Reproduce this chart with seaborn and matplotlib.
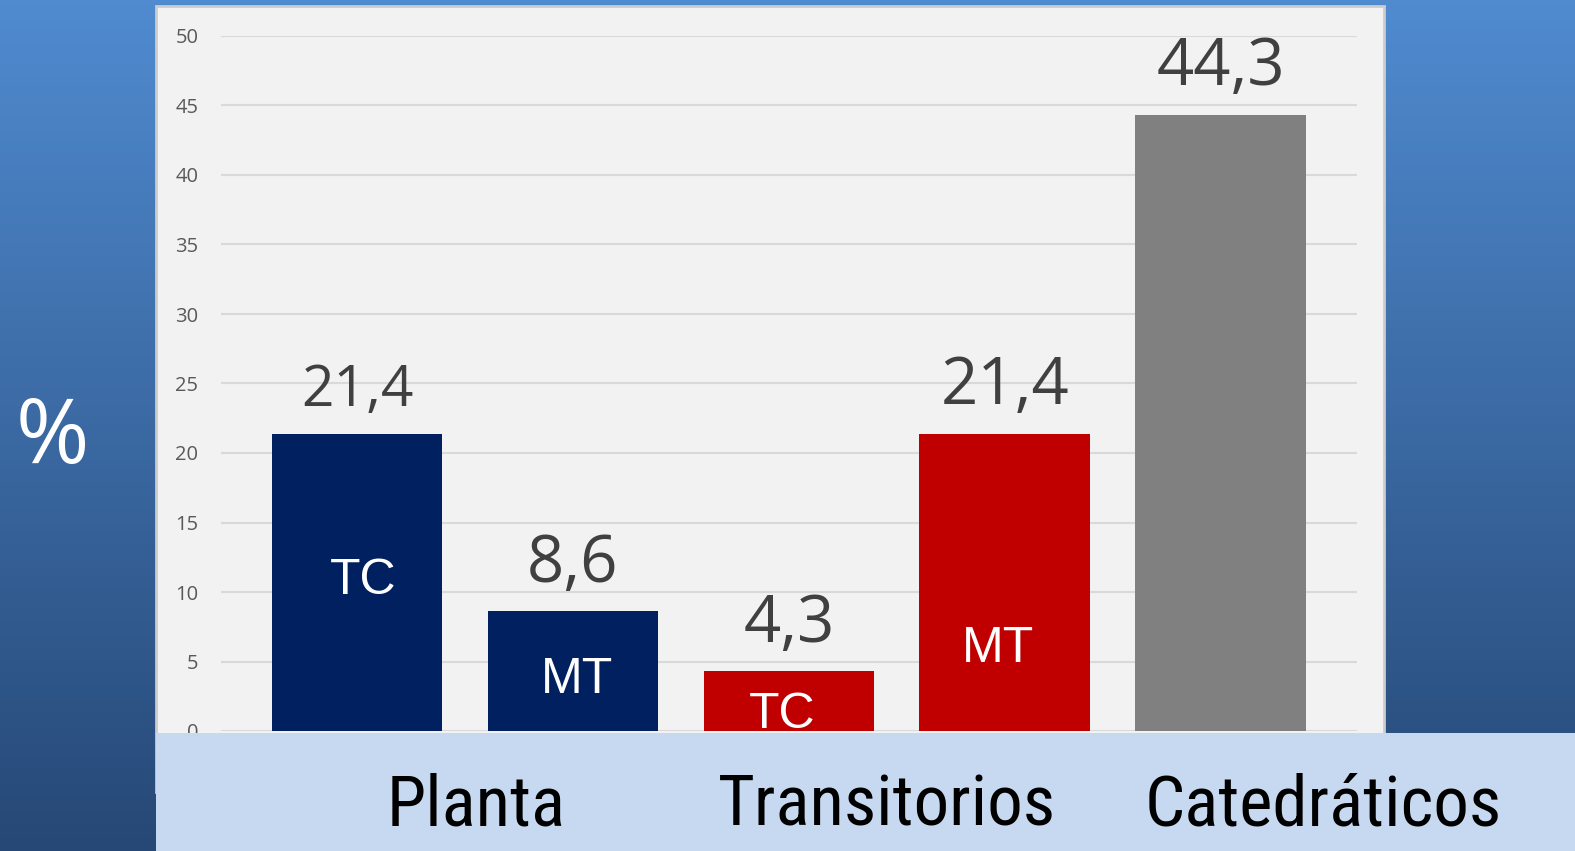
import numpy as np
import pandas as pd
import seaborn as sns
import matplotlib
matplotlib.use('Agg')
import matplotlib.pyplot as plt
from matplotlib.patches import Rectangle
from matplotlib import font_manager

# datos
barras = ['Planta TC', 'Planta MT', 'Transitorios TC', 'Transitorios MT', 'Catedráticos']
grupos = ['Planta', 'Planta', 'Transitorios', 'Transitorios', 'Catedráticos']
valores = [21.4, 8.6, 4.3, 21.4, 44.3]
etiquetas = ['TC', 'MT', 'TC', 'MT', '']
categorias = ['Planta', 'Transitorios', 'Catedráticos']
yticks = [0, 5, 10, 15, 20, 25, 30, 35, 40, 45, 50]

colores = {'Planta': '#002060', 'Transitorios': '#c00000', 'Catedráticos': '#808080'}

# layout: linea base de las etiquetas internas (unidades del eje) y tamanos de texto
etiqueta_y = [9.85, 2.75, 0.2, 4.95, 0]
etiqueta_dx = [0.03, 0.02, -0.03, -0.03, 0]
valor_size = [41, 47, 47, 47, 47]
valor_off = [19.5, 21, 21, 21, 22]
cat_x = [476, 887, 1323]

W, H = 1575, 851

sns.set_theme(style='white')
plt.rcParams['font.family'] = ['Open Sans', 'DejaVu Sans']

nombres = {f.name for f in font_manager.fontManager.ttflist}
fuente_cat = 'DejaVu Sans'
for cand in ['Liberation Sans Narrow', 'Roboto Condensed', 'DejaVu Sans']:
    if cand in nombres:
        fuente_cat = cand
        break

fig = plt.figure(figsize=(W / 100, H / 100), dpi=100)

# fondo degradado
bg = fig.add_axes([0, 0, 1, 1], zorder=-10)
top = np.array([80, 139, 208]) / 255
bot = np.array([38, 72, 118]) / 255
t = np.linspace(0, 1, 256)[:, None]
grad = (top[None, :] * (1 - t) + bot[None, :] * t)[:, None, :]
bg.imshow(grad, aspect='auto', extent=[0, 1, 0, 1])
bg.axis('off')

# panel del grafico
fig.add_artist(Rectangle((156 / W, (H - 792) / H), (1384 - 156) / W, (792 - 6) / H,
                         transform=fig.transFigure, facecolor='#f2f2f2',
                         edgecolor='#cccccc', lw=2, zorder=-5))

ax = fig.add_axes([220.7 / W, (H - 731) / H, (1357 - 220.7) / W, (731 - 36) / H])
ax.patch.set_alpha(0)

df = pd.DataFrame({'barra': barras, 'valor': valores, 'grupo': grupos})
sns.barplot(data=df, x='barra', y='valor', hue='grupo', palette=colores, dodge=False,
            width=0.79, saturation=1, legend=False, ax=ax, zorder=3, linewidth=0)

ax.set_xlim(-0.632, 4.632)
ax.set_ylim(0, 50)
ax.set_yticks(yticks)
ax.set_xticks([])
ax.set_xlabel('')
ax.set_ylabel('')
ax.yaxis.grid(True, color='#d9d9d9', lw=1.5)
ax.set_axisbelow(True)
for s in ax.spines.values():
    s.set_visible(False)
ax.tick_params(axis='y', length=0, pad=16, labelsize=14.5, labelcolor='#595959')

for i, v in enumerate(valores):
    ax.annotate(f'{v:.1f}'.replace('.', ','), (i, v), xytext=(0, valor_off[i]),
                textcoords='offset points', ha='center', va='baseline',
                fontsize=valor_size[i], color='#404040', zorder=4)
    if etiquetas[i]:
        ax.text(i + etiqueta_dx[i], etiqueta_y[i], etiquetas[i], ha='center', va='baseline',
                fontsize=36, color='white', family=['Liberation Sans', 'DejaVu Sans'], zorder=4)

# franja inferior
fig.add_artist(Rectangle((156 / W, 0), 1 - 156 / W, (H - 733) / H,
                         transform=fig.transFigure, facecolor='#c6d9f0',
                         edgecolor='none', zorder=5))

for x, c in zip(cat_x, categorias):
    fig.text(x / W, (H - 826) / H, c, ha='center', va='baseline', fontsize=51,
             family=[fuente_cat, 'DejaVu Sans'], fontstretch='condensed',
             color='black', zorder=6)

fig.text(52 / W, (H - 463) / H, '%', ha='center', va='baseline', fontsize=64,
         color='white', zorder=6)

fig.savefig('out.png', dpi=100)
